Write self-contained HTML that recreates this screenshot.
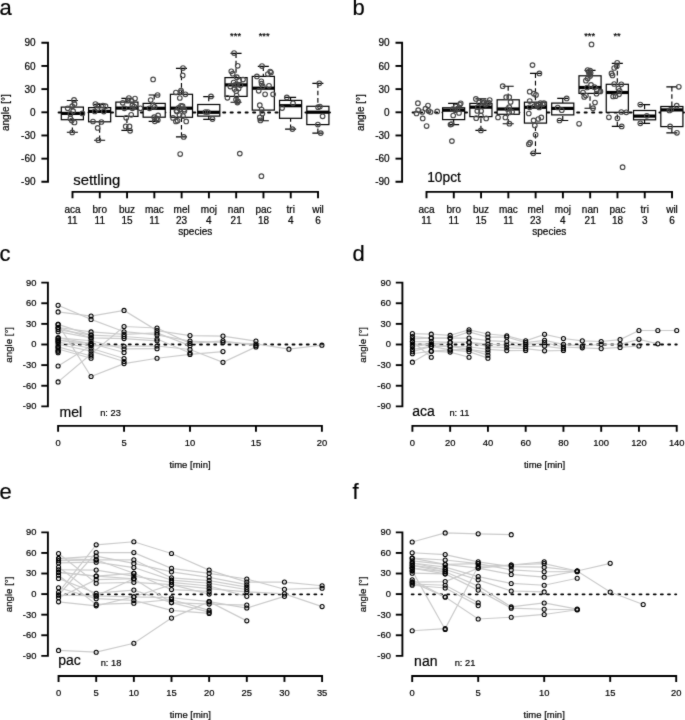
<!DOCTYPE html>
<html lang="en"><head><meta charset="utf-8"><title>Figure: settling angles</title>
<style>
html,body{margin:0;padding:0;background:#fff;}
body{width:685px;height:720px;overflow:hidden;}
svg{display:block;}
text{stroke:#000;stroke-width:0.2px;}
</style></head><body>
<svg width="685" height="720" viewBox="0 0 685 720" font-family='"Liberation Sans", sans-serif' fill="#000">
<defs><filter id="soft" x="0" y="0" width="685" height="720" filterUnits="userSpaceOnUse" color-interpolation-filters="sRGB"><feConvolveMatrix order="3" kernelMatrix="0.02 0.07 0.02 0.07 0.64 0.07 0.02 0.07 0.02" edgeMode="duplicate" preserveAlpha="true"/></filter></defs>
<g filter="url(#soft)">
<rect width="685" height="720" fill="#fff"/>
<text x="-0.6" y="14.7" font-size="22" text-anchor="start">a</text>
<text x="352.4" y="14.6" font-size="22" text-anchor="start">b</text>
<text x="-0.6" y="261" font-size="22" text-anchor="start">c</text>
<text x="352.4" y="261" font-size="22" text-anchor="start">d</text>
<text x="-0.6" y="498.7" font-size="22" text-anchor="start">e</text>
<text x="352.4" y="498.7" font-size="22" text-anchor="start">f</text>
<g id="pa">
<line x1="58.63" y1="112.5" x2="330.62" y2="112.5" stroke="#000" stroke-width="2.05" stroke-linecap="round" stroke-dasharray="2.02 5.46"/>
<path d="M72.35 100.5V107.1 M72.35 132.2V119.7" stroke="#000" stroke-width="1.15" stroke-dasharray="4.6 2.8" fill="none"/>
<path d="M66.82 100.5H77.88 M66.82 132.2H77.88" stroke="#000" stroke-width="1.15" fill="none"/>
<rect x="61.3" y="107.1" width="22.1" height="12.6" fill="#fff" stroke="#000" stroke-width="1.2"/>
<line x1="61.3" y1="113.4" x2="83.4" y2="113.4" stroke="#000" stroke-width="3.2"/>
<path d="M99.63 104.4V107.6 M99.63 140.2V121.8" stroke="#000" stroke-width="1.15" stroke-dasharray="4.6 2.8" fill="none"/>
<path d="M94.1 104.4H105.16 M94.1 140.2H105.16" stroke="#000" stroke-width="1.15" fill="none"/>
<rect x="88.58" y="107.6" width="22.1" height="14.2" fill="#fff" stroke="#000" stroke-width="1.2"/>
<line x1="88.58" y1="111.4" x2="110.68" y2="111.4" stroke="#000" stroke-width="3.2"/>
<path d="M126.91 98.3V102.1 M126.91 130.4V116.4" stroke="#000" stroke-width="1.15" stroke-dasharray="4.6 2.8" fill="none"/>
<path d="M121.38 98.3H132.44 M121.38 130.4H132.44" stroke="#000" stroke-width="1.15" fill="none"/>
<rect x="115.86" y="102.1" width="22.1" height="14.3" fill="#fff" stroke="#000" stroke-width="1.2"/>
<line x1="115.86" y1="108.1" x2="137.96" y2="108.1" stroke="#000" stroke-width="3.2"/>
<path d="M154.19 95V103.4 M154.19 121.3V117.2" stroke="#000" stroke-width="1.15" stroke-dasharray="4.6 2.8" fill="none"/>
<path d="M148.66 95H159.72 M148.66 121.3H159.72" stroke="#000" stroke-width="1.15" fill="none"/>
<rect x="143.14" y="103.4" width="22.1" height="13.8" fill="#fff" stroke="#000" stroke-width="1.2"/>
<line x1="143.14" y1="108.3" x2="165.24" y2="108.3" stroke="#000" stroke-width="3.2"/>
<path d="M181.47 68.3V94.3 M181.47 136.9V117.3" stroke="#000" stroke-width="1.15" stroke-dasharray="4.6 2.8" fill="none"/>
<path d="M175.94 68.3H187 M175.94 136.9H187" stroke="#000" stroke-width="1.15" fill="none"/>
<rect x="170.42" y="94.3" width="22.1" height="23" fill="#fff" stroke="#000" stroke-width="1.2"/>
<line x1="170.42" y1="108.2" x2="192.52" y2="108.2" stroke="#000" stroke-width="3.2"/>
<path d="M208.75 96.6V104.5 M208.75 119.3V116.1" stroke="#000" stroke-width="1.15" stroke-dasharray="4.6 2.8" fill="none"/>
<path d="M203.22 96.6H214.28 M203.22 119.3H214.28" stroke="#000" stroke-width="1.15" fill="none"/>
<rect x="197.7" y="104.5" width="22.1" height="11.6" fill="#fff" stroke="#000" stroke-width="1.2"/>
<line x1="197.7" y1="112.3" x2="219.8" y2="112.3" stroke="#000" stroke-width="3.2"/>
<path d="M236.03 53.4V77.6 M236.03 102.2V96.4" stroke="#000" stroke-width="1.15" stroke-dasharray="4.6 2.8" fill="none"/>
<path d="M230.5 53.4H241.56 M230.5 102.2H241.56" stroke="#000" stroke-width="1.15" fill="none"/>
<rect x="224.98" y="77.6" width="22.1" height="18.8" fill="#fff" stroke="#000" stroke-width="1.2"/>
<line x1="224.98" y1="84.9" x2="247.08" y2="84.9" stroke="#000" stroke-width="3.2"/>
<path d="M263.31 66.3V76.4 M263.31 120.7V110.1" stroke="#000" stroke-width="1.15" stroke-dasharray="4.6 2.8" fill="none"/>
<path d="M257.79 66.3H268.83 M257.79 120.7H268.83" stroke="#000" stroke-width="1.15" fill="none"/>
<rect x="252.26" y="76.4" width="22.1" height="33.7" fill="#fff" stroke="#000" stroke-width="1.2"/>
<line x1="252.26" y1="88.2" x2="274.36" y2="88.2" stroke="#000" stroke-width="3.2"/>
<path d="M290.59 97.4V100.4 M290.59 129.1V118.3" stroke="#000" stroke-width="1.15" stroke-dasharray="4.6 2.8" fill="none"/>
<path d="M285.07 97.4H296.12 M285.07 129.1H296.12" stroke="#000" stroke-width="1.15" fill="none"/>
<rect x="279.54" y="100.4" width="22.1" height="17.9" fill="#fff" stroke="#000" stroke-width="1.2"/>
<line x1="279.54" y1="105.7" x2="301.64" y2="105.7" stroke="#000" stroke-width="3.2"/>
<path d="M317.87 83.3V106.3 M317.87 133.1V124.6" stroke="#000" stroke-width="1.15" stroke-dasharray="4.6 2.8" fill="none"/>
<path d="M312.35 83.3H323.39 M312.35 133.1H323.39" stroke="#000" stroke-width="1.15" fill="none"/>
<rect x="306.82" y="106.3" width="22.1" height="18.3" fill="#fff" stroke="#000" stroke-width="1.2"/>
<line x1="306.82" y1="112.2" x2="328.92" y2="112.2" stroke="#000" stroke-width="3.2"/>
<g fill="none" stroke="#464646" stroke-width="1.15">
<circle cx="74.05" cy="99.9" r="2.3"/>
<circle cx="74.5" cy="104" r="2.3"/>
<circle cx="72.2" cy="106.2" r="2.3"/>
<circle cx="67.7" cy="108.3" r="2.3"/>
<circle cx="73.1" cy="111.2" r="2.3"/>
<circle cx="70.4" cy="113.9" r="2.3"/>
<circle cx="82.4" cy="113.4" r="2.3"/>
<circle cx="70.4" cy="118.4" r="2.3"/>
<circle cx="71.8" cy="120.6" r="2.3"/>
<circle cx="74.5" cy="122.5" r="2.3"/>
<circle cx="72.2" cy="132.4" r="2.3"/>
<circle cx="95.4" cy="104" r="2.3"/>
<circle cx="98.4" cy="105.6" r="2.3"/>
<circle cx="102.9" cy="105.6" r="2.3"/>
<circle cx="105.5" cy="106.2" r="2.3"/>
<circle cx="94.8" cy="111.4" r="2.3"/>
<circle cx="103.8" cy="111.6" r="2.3"/>
<circle cx="97.5" cy="108.6" r="2.3"/>
<circle cx="93" cy="121.5" r="2.3"/>
<circle cx="101.4" cy="122" r="2.3"/>
<circle cx="97.7" cy="127.9" r="2.3"/>
<circle cx="98.4" cy="140.2" r="2.3"/>
<circle cx="128.9" cy="98.1" r="2.3"/>
<circle cx="135" cy="98.6" r="2.3"/>
<circle cx="131.6" cy="100.9" r="2.3"/>
<circle cx="122.7" cy="102.8" r="2.3"/>
<circle cx="132.4" cy="105.4" r="2.3"/>
<circle cx="124.4" cy="108.3" r="2.3"/>
<circle cx="132.4" cy="108.3" r="2.3"/>
<circle cx="140.4" cy="108.3" r="2.3"/>
<circle cx="131.2" cy="114.8" r="2.3"/>
<circle cx="126.2" cy="117.8" r="2.3"/>
<circle cx="125.7" cy="126.4" r="2.3"/>
<circle cx="129.5" cy="126.4" r="2.3"/>
<circle cx="130.1" cy="130.8" r="2.3"/>
<circle cx="127.7" cy="100.7" r="2.3"/>
<circle cx="134.2" cy="106.6" r="2.3"/>
<circle cx="153.1" cy="79.4" r="2.3"/>
<circle cx="157.6" cy="95" r="2.3"/>
<circle cx="150.7" cy="100.1" r="2.3"/>
<circle cx="153.1" cy="105.4" r="2.3"/>
<circle cx="154.6" cy="106.8" r="2.3"/>
<circle cx="149.5" cy="108.3" r="2.3"/>
<circle cx="158.1" cy="115.4" r="2.3"/>
<circle cx="154.2" cy="117.2" r="2.3"/>
<circle cx="156.6" cy="118.4" r="2.3"/>
<circle cx="154.8" cy="121.3" r="2.3"/>
<circle cx="157.8" cy="120.1" r="2.3"/>
<circle cx="183" cy="68.1" r="2.3"/>
<circle cx="182.7" cy="75.4" r="2.3"/>
<circle cx="181" cy="90.5" r="2.3"/>
<circle cx="175.9" cy="92.5" r="2.3"/>
<circle cx="181.2" cy="92.2" r="2.3"/>
<circle cx="185.4" cy="94.3" r="2.3"/>
<circle cx="179.8" cy="98" r="2.3"/>
<circle cx="181" cy="105.8" r="2.3"/>
<circle cx="182.6" cy="106.2" r="2.3"/>
<circle cx="184.2" cy="109.6" r="2.3"/>
<circle cx="176.5" cy="110.8" r="2.3"/>
<circle cx="179.5" cy="114.9" r="2.3"/>
<circle cx="183" cy="116.1" r="2.3"/>
<circle cx="173" cy="117.9" r="2.3"/>
<circle cx="175.9" cy="121.4" r="2.3"/>
<circle cx="177.6" cy="120.8" r="2.3"/>
<circle cx="186.2" cy="121.4" r="2.3"/>
<circle cx="183.7" cy="136.9" r="2.3"/>
<circle cx="180.2" cy="154" r="2.3"/>
<circle cx="178.6" cy="107.9" r="2.3"/>
<circle cx="184.4" cy="110.9" r="2.3"/>
<circle cx="176.9" cy="111.5" r="2.3"/>
<circle cx="180.4" cy="109.2" r="2.3"/>
<circle cx="211" cy="96.4" r="2.3"/>
<circle cx="205.4" cy="112" r="2.3"/>
<circle cx="207.8" cy="112" r="2.3"/>
<circle cx="212.5" cy="119.1" r="2.3"/>
<circle cx="234.1" cy="53" r="2.3"/>
<circle cx="237.7" cy="65.8" r="2.3"/>
<circle cx="231.3" cy="71.3" r="2.3"/>
<circle cx="232.7" cy="73.7" r="2.3"/>
<circle cx="236.8" cy="77.2" r="2.3"/>
<circle cx="243" cy="79.6" r="2.3"/>
<circle cx="239.2" cy="80.7" r="2.3"/>
<circle cx="237.4" cy="84.3" r="2.3"/>
<circle cx="235.1" cy="84.9" r="2.3"/>
<circle cx="230.3" cy="86.6" r="2.3"/>
<circle cx="234.5" cy="89" r="2.3"/>
<circle cx="238.6" cy="88.6" r="2.3"/>
<circle cx="236.6" cy="95.5" r="2.3"/>
<circle cx="227.4" cy="97.8" r="2.3"/>
<circle cx="236" cy="99.6" r="2.3"/>
<circle cx="238" cy="101.4" r="2.3"/>
<circle cx="237.4" cy="102.6" r="2.3"/>
<circle cx="239.8" cy="153.6" r="2.3"/>
<circle cx="233.6" cy="82.6" r="2.3"/>
<circle cx="240.4" cy="85.2" r="2.3"/>
<circle cx="236.2" cy="91.2" r="2.3"/>
<circle cx="262" cy="66" r="2.3"/>
<circle cx="271" cy="72.5" r="2.3"/>
<circle cx="267.9" cy="74" r="2.3"/>
<circle cx="256.9" cy="76.4" r="2.3"/>
<circle cx="261.3" cy="81.3" r="2.3"/>
<circle cx="261.6" cy="83.7" r="2.3"/>
<circle cx="262.8" cy="86.4" r="2.3"/>
<circle cx="269" cy="85.8" r="2.3"/>
<circle cx="258.7" cy="90.8" r="2.3"/>
<circle cx="265.1" cy="94.3" r="2.3"/>
<circle cx="273.1" cy="94.3" r="2.3"/>
<circle cx="259.8" cy="105.2" r="2.3"/>
<circle cx="261.6" cy="109.5" r="2.3"/>
<circle cx="262.4" cy="113.5" r="2.3"/>
<circle cx="259.8" cy="117.4" r="2.3"/>
<circle cx="260.4" cy="120.4" r="2.3"/>
<circle cx="261.4" cy="176.2" r="2.3"/>
<circle cx="270.2" cy="71.6" r="2.3"/>
<circle cx="286.8" cy="97.4" r="2.3"/>
<circle cx="293" cy="103.3" r="2.3"/>
<circle cx="282.1" cy="108.1" r="2.3"/>
<circle cx="292.4" cy="129.1" r="2.3"/>
<circle cx="319.3" cy="83.3" r="2.3"/>
<circle cx="319.9" cy="106.5" r="2.3"/>
<circle cx="318.1" cy="107.2" r="2.3"/>
<circle cx="322.6" cy="116.3" r="2.3"/>
<circle cx="317.9" cy="124.6" r="2.3"/>
<circle cx="320.7" cy="133.1" r="2.3"/>
</g>
<path d="M41.4 42.78 H48 V181.82 H41.4" fill="none" stroke="#000" stroke-width="1.9" stroke-linecap="butt" stroke-linejoin="miter"/>
<line x1="41.4" y1="65.95" x2="48" y2="65.95" stroke="#000" stroke-width="1.9"/>
<line x1="41.4" y1="89.12" x2="48" y2="89.12" stroke="#000" stroke-width="1.9"/>
<line x1="41.4" y1="112.3" x2="48" y2="112.3" stroke="#000" stroke-width="1.9"/>
<line x1="41.4" y1="135.47" x2="48" y2="135.47" stroke="#000" stroke-width="1.9"/>
<line x1="41.4" y1="158.65" x2="48" y2="158.65" stroke="#000" stroke-width="1.9"/>
<text x="35.5" y="46.38" font-size="10" text-anchor="end">90</text>
<text x="35.5" y="69.55" font-size="10" text-anchor="end">60</text>
<text x="35.5" y="92.72" font-size="10" text-anchor="end">30</text>
<text x="35.5" y="115.9" font-size="10" text-anchor="end">0</text>
<text x="35.5" y="139.07" font-size="10" text-anchor="end">-30</text>
<text x="35.5" y="162.25" font-size="10" text-anchor="end">-60</text>
<text x="35.5" y="185.42" font-size="10" text-anchor="end">-90</text>
<text transform="translate(9.4 112.6) rotate(-90)" font-size="10" text-anchor="middle">angle [°]</text>
<path d="M72.5 198.3 V191.9 H318.02 V198.3" fill="none" stroke="#000" stroke-width="1.9"/>
<line x1="99.78" y1="191.9" x2="99.78" y2="198.3" stroke="#000" stroke-width="1.9"/>
<line x1="127.06" y1="191.9" x2="127.06" y2="198.3" stroke="#000" stroke-width="1.9"/>
<line x1="154.34" y1="191.9" x2="154.34" y2="198.3" stroke="#000" stroke-width="1.9"/>
<line x1="181.62" y1="191.9" x2="181.62" y2="198.3" stroke="#000" stroke-width="1.9"/>
<line x1="208.9" y1="191.9" x2="208.9" y2="198.3" stroke="#000" stroke-width="1.9"/>
<line x1="236.18" y1="191.9" x2="236.18" y2="198.3" stroke="#000" stroke-width="1.9"/>
<line x1="263.46" y1="191.9" x2="263.46" y2="198.3" stroke="#000" stroke-width="1.9"/>
<line x1="290.74" y1="191.9" x2="290.74" y2="198.3" stroke="#000" stroke-width="1.9"/>
<text x="72.5" y="213.1" font-size="10" text-anchor="middle">aca</text>
<text x="72.5" y="223.8" font-size="10" text-anchor="middle">11</text>
<text x="99.78" y="213.1" font-size="10" text-anchor="middle">bro</text>
<text x="99.78" y="223.8" font-size="10" text-anchor="middle">11</text>
<text x="127.06" y="213.1" font-size="10" text-anchor="middle">buz</text>
<text x="127.06" y="223.8" font-size="10" text-anchor="middle">15</text>
<text x="154.34" y="213.1" font-size="10" text-anchor="middle">mac</text>
<text x="154.34" y="223.8" font-size="10" text-anchor="middle">11</text>
<text x="181.62" y="213.1" font-size="10" text-anchor="middle">mel</text>
<text x="181.62" y="223.8" font-size="10" text-anchor="middle">23</text>
<text x="208.9" y="213.1" font-size="10" text-anchor="middle">moj</text>
<text x="208.9" y="223.8" font-size="10" text-anchor="middle">4</text>
<text x="236.18" y="213.1" font-size="10" text-anchor="middle">nan</text>
<text x="236.18" y="223.8" font-size="10" text-anchor="middle">21</text>
<text x="263.46" y="213.1" font-size="10" text-anchor="middle">pac</text>
<text x="263.46" y="223.8" font-size="10" text-anchor="middle">18</text>
<text x="290.74" y="213.1" font-size="10" text-anchor="middle">tri</text>
<text x="290.74" y="223.8" font-size="10" text-anchor="middle">4</text>
<text x="318.02" y="213.1" font-size="10" text-anchor="middle">wil</text>
<text x="318.02" y="223.8" font-size="10" text-anchor="middle">6</text>
<text x="195.26" y="235.1" font-size="10" text-anchor="middle">species</text>
<text x="73.2" y="185" font-size="14.9" text-anchor="start">settling</text>
<text x="235.6" y="38.6" font-size="9.4" text-anchor="middle">***</text>
<text x="264.2" y="38.6" font-size="9.4" text-anchor="middle">***</text>
</g><g id="pb">
<line x1="412.63" y1="112.5" x2="684.62" y2="112.5" stroke="#000" stroke-width="2.05" stroke-linecap="round" stroke-dasharray="2.02 5.46"/>
<path d="M453.63 103.3V107.8 M453.63 124.6V119.6" stroke="#000" stroke-width="1.15" stroke-dasharray="4.6 2.8" fill="none"/>
<path d="M448.11 103.3H459.15 M448.11 124.6H459.15" stroke="#000" stroke-width="1.15" fill="none"/>
<rect x="442.58" y="107.8" width="22.1" height="11.8" fill="#fff" stroke="#000" stroke-width="1.2"/>
<line x1="442.58" y1="110.2" x2="464.68" y2="110.2" stroke="#000" stroke-width="3.2"/>
<path d="M480.91 98.9V103.4 M480.91 130.4V116.6" stroke="#000" stroke-width="1.15" stroke-dasharray="4.6 2.8" fill="none"/>
<path d="M475.39 98.9H486.44 M475.39 130.4H486.44" stroke="#000" stroke-width="1.15" fill="none"/>
<rect x="469.86" y="103.4" width="22.1" height="13.2" fill="#fff" stroke="#000" stroke-width="1.2"/>
<line x1="469.86" y1="107.2" x2="491.96" y2="107.2" stroke="#000" stroke-width="3.2"/>
<path d="M508.19 86.2V99.8 M508.19 123.7V114.3" stroke="#000" stroke-width="1.15" stroke-dasharray="4.6 2.8" fill="none"/>
<path d="M502.67 86.2H513.72 M502.67 123.7H513.72" stroke="#000" stroke-width="1.15" fill="none"/>
<rect x="497.14" y="99.8" width="22.1" height="14.5" fill="#fff" stroke="#000" stroke-width="1.2"/>
<line x1="497.14" y1="109" x2="519.24" y2="109" stroke="#000" stroke-width="3.2"/>
<path d="M535.47 73.4V102.2 M535.47 153.3V123.1" stroke="#000" stroke-width="1.15" stroke-dasharray="4.6 2.8" fill="none"/>
<path d="M529.95 73.4H541 M529.95 153.3H541" stroke="#000" stroke-width="1.15" fill="none"/>
<rect x="524.42" y="102.2" width="22.1" height="20.9" fill="#fff" stroke="#000" stroke-width="1.2"/>
<line x1="524.42" y1="107.3" x2="546.52" y2="107.3" stroke="#000" stroke-width="3.2"/>
<path d="M562.75 98.4V103.1 M562.75 120.5V114.9" stroke="#000" stroke-width="1.15" stroke-dasharray="4.6 2.8" fill="none"/>
<path d="M557.23 98.4H568.27 M557.23 120.5H568.27" stroke="#000" stroke-width="1.15" fill="none"/>
<rect x="551.7" y="103.1" width="22.1" height="11.8" fill="#fff" stroke="#000" stroke-width="1.2"/>
<line x1="551.7" y1="108.4" x2="573.8" y2="108.4" stroke="#000" stroke-width="3.2"/>
<path d="M590.03 70.4V75.8 M590.03 108.2V93.4" stroke="#000" stroke-width="1.15" stroke-dasharray="4.6 2.8" fill="none"/>
<path d="M584.5 70.4H595.55 M584.5 108.2H595.55" stroke="#000" stroke-width="1.15" fill="none"/>
<rect x="578.98" y="75.8" width="22.1" height="17.6" fill="#fff" stroke="#000" stroke-width="1.2"/>
<line x1="578.98" y1="87.5" x2="601.08" y2="87.5" stroke="#000" stroke-width="3.2"/>
<path d="M617.31 63.4V84.3 M617.31 126.4V112.3" stroke="#000" stroke-width="1.15" stroke-dasharray="4.6 2.8" fill="none"/>
<path d="M611.79 63.4H622.84 M611.79 126.4H622.84" stroke="#000" stroke-width="1.15" fill="none"/>
<rect x="606.26" y="84.3" width="22.1" height="28" fill="#fff" stroke="#000" stroke-width="1.2"/>
<line x1="606.26" y1="92.5" x2="628.36" y2="92.5" stroke="#000" stroke-width="3.2"/>
<path d="M644.59 104.6V110.5 M644.59 123.3V119.8" stroke="#000" stroke-width="1.15" stroke-dasharray="4.6 2.8" fill="none"/>
<path d="M639.07 104.6H650.12 M639.07 123.3H650.12" stroke="#000" stroke-width="1.15" fill="none"/>
<rect x="633.54" y="110.5" width="22.1" height="9.3" fill="#fff" stroke="#000" stroke-width="1.2"/>
<line x1="633.54" y1="116.1" x2="655.64" y2="116.1" stroke="#000" stroke-width="3.2"/>
<path d="M671.87 86.8V106.5 M671.87 132.8V126.6" stroke="#000" stroke-width="1.15" stroke-dasharray="4.6 2.8" fill="none"/>
<path d="M666.35 86.8H677.39 M666.35 132.8H677.39" stroke="#000" stroke-width="1.15" fill="none"/>
<rect x="660.82" y="106.5" width="22.1" height="20.1" fill="#fff" stroke="#000" stroke-width="1.2"/>
<line x1="660.82" y1="109.9" x2="682.92" y2="109.9" stroke="#000" stroke-width="3.2"/>
<g fill="none" stroke="#464646" stroke-width="1.15">
<circle cx="417.9" cy="103.2" r="2.3"/>
<circle cx="428" cy="105.5" r="2.3"/>
<circle cx="425.5" cy="108.7" r="2.3"/>
<circle cx="418.2" cy="110.2" r="2.3"/>
<circle cx="422.3" cy="112" r="2.3"/>
<circle cx="416.5" cy="113.4" r="2.3"/>
<circle cx="430.5" cy="112" r="2.3"/>
<circle cx="428.5" cy="110.8" r="2.3"/>
<circle cx="437.2" cy="111.4" r="2.3"/>
<circle cx="422.7" cy="118.4" r="2.3"/>
<circle cx="426.6" cy="126" r="2.3"/>
<circle cx="460.7" cy="103.3" r="2.3"/>
<circle cx="455.8" cy="106.6" r="2.3"/>
<circle cx="452.8" cy="109.2" r="2.3"/>
<circle cx="455.2" cy="110.2" r="2.3"/>
<circle cx="459" cy="113" r="2.3"/>
<circle cx="453.2" cy="115.5" r="2.3"/>
<circle cx="450.5" cy="124.6" r="2.3"/>
<circle cx="451.7" cy="124.1" r="2.3"/>
<circle cx="451.9" cy="141.1" r="2.3"/>
<circle cx="457.6" cy="108.6" r="2.3"/>
<circle cx="459.9" cy="104.5" r="2.3"/>
<circle cx="475.9" cy="98.9" r="2.3"/>
<circle cx="489.7" cy="100.1" r="2.3"/>
<circle cx="479.1" cy="102.5" r="2.3"/>
<circle cx="482.6" cy="103.1" r="2.3"/>
<circle cx="487.4" cy="103.4" r="2.3"/>
<circle cx="477.9" cy="107.2" r="2.3"/>
<circle cx="485.6" cy="104.6" r="2.3"/>
<circle cx="477.3" cy="111" r="2.3"/>
<circle cx="481.1" cy="111" r="2.3"/>
<circle cx="480.9" cy="115.5" r="2.3"/>
<circle cx="476.2" cy="118.2" r="2.3"/>
<circle cx="486.2" cy="118.4" r="2.3"/>
<circle cx="480.9" cy="130.4" r="2.3"/>
<circle cx="484.2" cy="102.4" r="2.3"/>
<circle cx="488.6" cy="102.6" r="2.3"/>
<circle cx="502.7" cy="86.2" r="2.3"/>
<circle cx="506.2" cy="97.2" r="2.3"/>
<circle cx="509.2" cy="97.2" r="2.3"/>
<circle cx="510.6" cy="101.9" r="2.3"/>
<circle cx="509.2" cy="107.2" r="2.3"/>
<circle cx="507.4" cy="109" r="2.3"/>
<circle cx="512.1" cy="111.9" r="2.3"/>
<circle cx="509.2" cy="112.5" r="2.3"/>
<circle cx="498" cy="117.5" r="2.3"/>
<circle cx="505.4" cy="117.5" r="2.3"/>
<circle cx="509.4" cy="123.7" r="2.3"/>
<circle cx="532.5" cy="65.1" r="2.3"/>
<circle cx="539.4" cy="73.4" r="2.3"/>
<circle cx="529.7" cy="91.7" r="2.3"/>
<circle cx="533.9" cy="93.7" r="2.3"/>
<circle cx="536" cy="94.9" r="2.3"/>
<circle cx="529.7" cy="101.1" r="2.3"/>
<circle cx="540.4" cy="103.1" r="2.3"/>
<circle cx="542.7" cy="104.3" r="2.3"/>
<circle cx="537.4" cy="105.5" r="2.3"/>
<circle cx="534.5" cy="106.1" r="2.3"/>
<circle cx="529.7" cy="107.3" r="2.3"/>
<circle cx="539.2" cy="107.5" r="2.3"/>
<circle cx="528.8" cy="113.5" r="2.3"/>
<circle cx="541.3" cy="117.4" r="2.3"/>
<circle cx="538.3" cy="119" r="2.3"/>
<circle cx="533.6" cy="120.4" r="2.3"/>
<circle cx="534.8" cy="125.4" r="2.3"/>
<circle cx="535.6" cy="134.8" r="2.3"/>
<circle cx="528.9" cy="144.2" r="2.3"/>
<circle cx="530.1" cy="142.7" r="2.3"/>
<circle cx="533.3" cy="153.3" r="2.3"/>
<circle cx="543.9" cy="103.2" r="2.3"/>
<circle cx="536.6" cy="104.6" r="2.3"/>
<circle cx="566.7" cy="98.4" r="2.3"/>
<circle cx="557.7" cy="107.5" r="2.3"/>
<circle cx="561.8" cy="110.2" r="2.3"/>
<circle cx="559.5" cy="120.5" r="2.3"/>
<circle cx="591.5" cy="44.4" r="2.3"/>
<circle cx="587.7" cy="70.1" r="2.3"/>
<circle cx="590.1" cy="70.7" r="2.3"/>
<circle cx="590.6" cy="73.1" r="2.3"/>
<circle cx="590.1" cy="76" r="2.3"/>
<circle cx="587.7" cy="78.4" r="2.3"/>
<circle cx="585.9" cy="80.7" r="2.3"/>
<circle cx="591" cy="84.9" r="2.3"/>
<circle cx="587.1" cy="87.5" r="2.3"/>
<circle cx="594.5" cy="87.2" r="2.3"/>
<circle cx="596.9" cy="90.2" r="2.3"/>
<circle cx="600.4" cy="91.4" r="2.3"/>
<circle cx="583" cy="92.5" r="2.3"/>
<circle cx="596.5" cy="93.7" r="2.3"/>
<circle cx="585.9" cy="95.5" r="2.3"/>
<circle cx="584.2" cy="97" r="2.3"/>
<circle cx="595" cy="102.6" r="2.3"/>
<circle cx="593" cy="108.2" r="2.3"/>
<circle cx="579.1" cy="123.8" r="2.3"/>
<circle cx="589.2" cy="74.6" r="2.3"/>
<circle cx="588.8" cy="72.1" r="2.3"/>
<circle cx="617.2" cy="62.8" r="2.3"/>
<circle cx="614.2" cy="68" r="2.3"/>
<circle cx="611.5" cy="73.4" r="2.3"/>
<circle cx="612.5" cy="75.4" r="2.3"/>
<circle cx="614.2" cy="84" r="2.3"/>
<circle cx="621.3" cy="84.3" r="2.3"/>
<circle cx="618.4" cy="88.4" r="2.3"/>
<circle cx="619.6" cy="90.8" r="2.3"/>
<circle cx="619" cy="94.3" r="2.3"/>
<circle cx="613.1" cy="96.4" r="2.3"/>
<circle cx="615.5" cy="96.2" r="2.3"/>
<circle cx="621.3" cy="112" r="2.3"/>
<circle cx="626.3" cy="112.3" r="2.3"/>
<circle cx="608.9" cy="117.3" r="2.3"/>
<circle cx="617.4" cy="118.3" r="2.3"/>
<circle cx="621.7" cy="126.4" r="2.3"/>
<circle cx="622.6" cy="167.2" r="2.3"/>
<circle cx="616.8" cy="66.2" r="2.3"/>
<circle cx="640.3" cy="104.6" r="2.3"/>
<circle cx="646.8" cy="115.8" r="2.3"/>
<circle cx="640.3" cy="123.3" r="2.3"/>
<circle cx="678.8" cy="86.8" r="2.3"/>
<circle cx="676.7" cy="105.7" r="2.3"/>
<circle cx="669.4" cy="110.4" r="2.3"/>
<circle cx="670.1" cy="126.4" r="2.3"/>
<circle cx="676.9" cy="132.8" r="2.3"/>
<circle cx="671.2" cy="109.6" r="2.3"/>
</g>
<path d="M395.5 42.78 H402.1 V181.82 H395.5" fill="none" stroke="#000" stroke-width="1.9" stroke-linecap="butt" stroke-linejoin="miter"/>
<line x1="395.5" y1="65.95" x2="402.1" y2="65.95" stroke="#000" stroke-width="1.9"/>
<line x1="395.5" y1="89.12" x2="402.1" y2="89.12" stroke="#000" stroke-width="1.9"/>
<line x1="395.5" y1="112.3" x2="402.1" y2="112.3" stroke="#000" stroke-width="1.9"/>
<line x1="395.5" y1="135.47" x2="402.1" y2="135.47" stroke="#000" stroke-width="1.9"/>
<line x1="395.5" y1="158.65" x2="402.1" y2="158.65" stroke="#000" stroke-width="1.9"/>
<text x="389.6" y="46.38" font-size="10" text-anchor="end">90</text>
<text x="389.6" y="69.55" font-size="10" text-anchor="end">60</text>
<text x="389.6" y="92.72" font-size="10" text-anchor="end">30</text>
<text x="389.6" y="115.9" font-size="10" text-anchor="end">0</text>
<text x="389.6" y="139.07" font-size="10" text-anchor="end">-30</text>
<text x="389.6" y="162.25" font-size="10" text-anchor="end">-60</text>
<text x="389.6" y="185.42" font-size="10" text-anchor="end">-90</text>
<text transform="translate(363.5 112.6) rotate(-90)" font-size="10" text-anchor="middle">angle [°]</text>
<path d="M426.5 198.3 V191.9 H672.02 V198.3" fill="none" stroke="#000" stroke-width="1.9"/>
<line x1="453.78" y1="191.9" x2="453.78" y2="198.3" stroke="#000" stroke-width="1.9"/>
<line x1="481.06" y1="191.9" x2="481.06" y2="198.3" stroke="#000" stroke-width="1.9"/>
<line x1="508.34" y1="191.9" x2="508.34" y2="198.3" stroke="#000" stroke-width="1.9"/>
<line x1="535.62" y1="191.9" x2="535.62" y2="198.3" stroke="#000" stroke-width="1.9"/>
<line x1="562.9" y1="191.9" x2="562.9" y2="198.3" stroke="#000" stroke-width="1.9"/>
<line x1="590.18" y1="191.9" x2="590.18" y2="198.3" stroke="#000" stroke-width="1.9"/>
<line x1="617.46" y1="191.9" x2="617.46" y2="198.3" stroke="#000" stroke-width="1.9"/>
<line x1="644.74" y1="191.9" x2="644.74" y2="198.3" stroke="#000" stroke-width="1.9"/>
<text x="426.5" y="213.1" font-size="10" text-anchor="middle">aca</text>
<text x="426.5" y="223.8" font-size="10" text-anchor="middle">11</text>
<text x="453.78" y="213.1" font-size="10" text-anchor="middle">bro</text>
<text x="453.78" y="223.8" font-size="10" text-anchor="middle">11</text>
<text x="481.06" y="213.1" font-size="10" text-anchor="middle">buz</text>
<text x="481.06" y="223.8" font-size="10" text-anchor="middle">15</text>
<text x="508.34" y="213.1" font-size="10" text-anchor="middle">mac</text>
<text x="508.34" y="223.8" font-size="10" text-anchor="middle">11</text>
<text x="535.62" y="213.1" font-size="10" text-anchor="middle">mel</text>
<text x="535.62" y="223.8" font-size="10" text-anchor="middle">23</text>
<text x="562.9" y="213.1" font-size="10" text-anchor="middle">moj</text>
<text x="562.9" y="223.8" font-size="10" text-anchor="middle">4</text>
<text x="590.18" y="213.1" font-size="10" text-anchor="middle">nan</text>
<text x="590.18" y="223.8" font-size="10" text-anchor="middle">21</text>
<text x="617.46" y="213.1" font-size="10" text-anchor="middle">pac</text>
<text x="617.46" y="223.8" font-size="10" text-anchor="middle">18</text>
<text x="644.74" y="213.1" font-size="10" text-anchor="middle">tri</text>
<text x="644.74" y="223.8" font-size="10" text-anchor="middle">3</text>
<text x="672.02" y="213.1" font-size="10" text-anchor="middle">wil</text>
<text x="672.02" y="223.8" font-size="10" text-anchor="middle">6</text>
<text x="549.26" y="235.1" font-size="10" text-anchor="middle">species</text>
<text x="427.2" y="182.2" font-size="13.8" text-anchor="start">10pct</text>
<text x="589.7" y="38.6" font-size="9.4" text-anchor="middle">***</text>
<text x="617.1" y="38.6" font-size="9.4" text-anchor="middle">**</text>
</g><g id="pc">
<line x1="57.6" y1="344.5" x2="321.9" y2="344.5" stroke="#000" stroke-width="1.95" stroke-linecap="round" stroke-dasharray="1.92 5.2"/>
<g fill="none" stroke="#cbcbcb" stroke-width="1.2">
<path d="M58.1 305.31 L91.08 319.41 L124.05 331.71 L157.03 334.88 L190 341.06 L222.97 342.51 L255.95 343.95 L288.93 349.18 L321.9 345.19"/>
<path d="M58.1 311.91 L91.08 316.11 L124.05 310.4 L157.03 330.61 L190 335.56 L222.97 336.11 L255.95 341.06"/>
<path d="M58.1 381.9 L91.08 353.92 L124.05 326.49 L157.03 328 L190 343.4 L222.97 340.79 L255.95 345.67"/>
<path d="M58.1 324.43 L91.08 376.47 L124.05 363.61 L157.03 358.25 L190 354.4 L222.97 351.58"/>
<path d="M58.1 366.02 L91.08 345.6 L124.05 346.22 L157.03 346.01 L190 349.52 L222.97 362.31 L255.95 346.91"/>
<path d="M58.1 327.52 L91.08 331.92 L124.05 334.39 L157.03 332.88 L190 345.67"/>
<path d="M58.1 329.58 L91.08 335.08 L124.05 336.52 L157.03 339 L190 353.02"/>
<path d="M58.1 331.71 L91.08 337.9 L124.05 338.59 L157.03 340.79"/>
<path d="M58.1 337.9 L91.08 340.72 L124.05 348.97 L157.03 348.69"/>
<path d="M58.1 340.03 L91.08 343.47 L124.05 352.48"/>
<path d="M58.1 342.09 L91.08 348.28 L124.05 358.52"/>
<path d="M58.1 344.23 L91.08 351.1 L124.05 361.48"/>
<path d="M58.1 346.91 L91.08 355.98"/>
<path d="M58.1 348.97 L91.08 358.25"/>
<path d="M58.1 324.43 L91.08 335.08"/>
<path d="M58.1 327.52 L91.08 337.9"/>
<path d="M58.1 337.9 L91.08 343.47"/>
<path d="M58.1 340.03 L91.08 345.6"/>
</g>
<g fill="none" stroke="#000" stroke-width="1.05">
<circle cx="58.1" cy="305.31" r="2.05"/>
<circle cx="91.08" cy="319.41" r="2.05"/>
<circle cx="124.05" cy="331.71" r="2.05"/>
<circle cx="157.03" cy="334.88" r="2.05"/>
<circle cx="190" cy="341.06" r="2.05"/>
<circle cx="222.97" cy="342.51" r="2.05"/>
<circle cx="255.95" cy="343.95" r="2.05"/>
<circle cx="288.93" cy="349.18" r="2.05"/>
<circle cx="321.9" cy="345.19" r="2.05"/>
<circle cx="58.1" cy="311.91" r="2.05"/>
<circle cx="91.08" cy="316.11" r="2.05"/>
<circle cx="124.05" cy="310.4" r="2.05"/>
<circle cx="157.03" cy="330.61" r="2.05"/>
<circle cx="190" cy="335.56" r="2.05"/>
<circle cx="222.97" cy="336.11" r="2.05"/>
<circle cx="255.95" cy="341.06" r="2.05"/>
<circle cx="58.1" cy="381.9" r="2.05"/>
<circle cx="91.08" cy="353.92" r="2.05"/>
<circle cx="124.05" cy="326.49" r="2.05"/>
<circle cx="157.03" cy="328" r="2.05"/>
<circle cx="190" cy="343.4" r="2.05"/>
<circle cx="222.97" cy="340.79" r="2.05"/>
<circle cx="255.95" cy="345.67" r="2.05"/>
<circle cx="58.1" cy="324.43" r="2.05"/>
<circle cx="91.08" cy="376.47" r="2.05"/>
<circle cx="124.05" cy="363.61" r="2.05"/>
<circle cx="157.03" cy="358.25" r="2.05"/>
<circle cx="190" cy="354.4" r="2.05"/>
<circle cx="222.97" cy="351.58" r="2.05"/>
<circle cx="58.1" cy="366.02" r="2.05"/>
<circle cx="91.08" cy="345.6" r="2.05"/>
<circle cx="124.05" cy="346.22" r="2.05"/>
<circle cx="157.03" cy="346.01" r="2.05"/>
<circle cx="190" cy="349.52" r="2.05"/>
<circle cx="222.97" cy="362.31" r="2.05"/>
<circle cx="255.95" cy="346.91" r="2.05"/>
<circle cx="58.1" cy="327.52" r="2.05"/>
<circle cx="91.08" cy="331.92" r="2.05"/>
<circle cx="124.05" cy="334.39" r="2.05"/>
<circle cx="157.03" cy="332.88" r="2.05"/>
<circle cx="190" cy="345.67" r="2.05"/>
<circle cx="58.1" cy="329.58" r="2.05"/>
<circle cx="91.08" cy="335.08" r="2.05"/>
<circle cx="124.05" cy="336.52" r="2.05"/>
<circle cx="157.03" cy="339" r="2.05"/>
<circle cx="190" cy="353.02" r="2.05"/>
<circle cx="58.1" cy="331.71" r="2.05"/>
<circle cx="91.08" cy="337.9" r="2.05"/>
<circle cx="124.05" cy="338.59" r="2.05"/>
<circle cx="157.03" cy="340.79" r="2.05"/>
<circle cx="58.1" cy="337.9" r="2.05"/>
<circle cx="91.08" cy="340.72" r="2.05"/>
<circle cx="124.05" cy="348.97" r="2.05"/>
<circle cx="157.03" cy="348.69" r="2.05"/>
<circle cx="58.1" cy="340.03" r="2.05"/>
<circle cx="91.08" cy="343.47" r="2.05"/>
<circle cx="124.05" cy="352.48" r="2.05"/>
<circle cx="58.1" cy="342.09" r="2.05"/>
<circle cx="91.08" cy="348.28" r="2.05"/>
<circle cx="124.05" cy="358.52" r="2.05"/>
<circle cx="58.1" cy="344.23" r="2.05"/>
<circle cx="91.08" cy="351.1" r="2.05"/>
<circle cx="124.05" cy="361.48" r="2.05"/>
<circle cx="58.1" cy="346.91" r="2.05"/>
<circle cx="91.08" cy="355.98" r="2.05"/>
<circle cx="58.1" cy="348.97" r="2.05"/>
<circle cx="91.08" cy="358.25" r="2.05"/>
<circle cx="58.1" cy="351.1" r="2.05"/>
<circle cx="58.1" cy="352.75" r="2.05"/>
<circle cx="58.1" cy="324.43" r="2.05"/>
<circle cx="91.08" cy="335.08" r="2.05"/>
<circle cx="58.1" cy="327.52" r="2.05"/>
<circle cx="91.08" cy="337.9" r="2.05"/>
<circle cx="58.1" cy="337.9" r="2.05"/>
<circle cx="91.08" cy="343.47" r="2.05"/>
<circle cx="58.1" cy="340.03" r="2.05"/>
<circle cx="91.08" cy="345.6" r="2.05"/>
<circle cx="58.1" cy="342.09" r="2.05"/>
<circle cx="58.1" cy="346.91" r="2.05"/>
<circle cx="58.1" cy="351.1" r="2.05"/>
</g>
<path d="M41.3 282.62 H47.9 V406.38 H41.3" fill="none" stroke="#000" stroke-width="1.9" stroke-linecap="butt" stroke-linejoin="miter"/>
<line x1="41.3" y1="303.25" x2="47.9" y2="303.25" stroke="#000" stroke-width="1.9"/>
<line x1="41.3" y1="323.88" x2="47.9" y2="323.88" stroke="#000" stroke-width="1.9"/>
<line x1="41.3" y1="344.5" x2="47.9" y2="344.5" stroke="#000" stroke-width="1.9"/>
<line x1="41.3" y1="365.12" x2="47.9" y2="365.12" stroke="#000" stroke-width="1.9"/>
<line x1="41.3" y1="385.75" x2="47.9" y2="385.75" stroke="#000" stroke-width="1.9"/>
<text x="36.4" y="285.52" font-size="9.4" text-anchor="end">90</text>
<text x="36.4" y="306.15" font-size="9.4" text-anchor="end">60</text>
<text x="36.4" y="326.77" font-size="9.4" text-anchor="end">30</text>
<text x="36.4" y="347.4" font-size="9.4" text-anchor="end">0</text>
<text x="36.4" y="368.02" font-size="9.4" text-anchor="end">-30</text>
<text x="36.4" y="388.65" font-size="9.4" text-anchor="end">-60</text>
<text x="36.4" y="409.27" font-size="9.4" text-anchor="end">-90</text>
<text transform="translate(11.65 344.8) rotate(-90)" font-size="9.7" text-anchor="middle">angle [°]</text>
<path d="M58.1 431.8 V425.9 H321.9 V431.8" fill="none" stroke="#000" stroke-width="1.9"/>
<line x1="124.05" y1="425.9" x2="124.05" y2="431.8" stroke="#000" stroke-width="1.9"/>
<line x1="190" y1="425.9" x2="190" y2="431.8" stroke="#000" stroke-width="1.9"/>
<line x1="255.95" y1="425.9" x2="255.95" y2="431.8" stroke="#000" stroke-width="1.9"/>
<text x="58.1" y="445.6" font-size="9.4" text-anchor="middle">0</text>
<text x="124.05" y="445.6" font-size="9.4" text-anchor="middle">5</text>
<text x="190" y="445.6" font-size="9.4" text-anchor="middle">10</text>
<text x="255.95" y="445.6" font-size="9.4" text-anchor="middle">15</text>
<text x="321.9" y="445.6" font-size="9.4" text-anchor="middle">20</text>
<text x="190" y="467.9" font-size="9.5" text-anchor="middle">time [min]</text>
<text x="59.5" y="416.7" font-size="14" text-anchor="start">mel</text>
<text x="100.2" y="415.6" font-size="9.3" text-anchor="start">n: 23</text>
</g><g id="pd">
<line x1="411.9" y1="344.5" x2="676.72" y2="344.5" stroke="#000" stroke-width="1.95" stroke-linecap="round" stroke-dasharray="1.92 5.2"/>
<g fill="none" stroke="#cbcbcb" stroke-width="1.2">
<path d="M412.4 333.64 L431.28 334.19 L450.16 335.43 L469.04 329.79 L487.92 333.98 L506.8 335.77 L525.68 340.86 L544.56 334.32 L563.44 338.52 L582.32 340.86 L601.2 341.48 L620.08 339.62 L638.96 330.48 L657.84 330.48 L676.72 330.48"/>
<path d="M412.4 336.59 L431.28 338.04 L450.16 338.04 L469.04 331.92 L487.92 337.14 L506.8 337.14 L525.68 342.57 L544.56 340.31 L563.44 344.29 L582.32 346.08 L601.2 344.23 L620.08 344.23 L638.96 339.34 L657.84 343.81"/>
<path d="M412.4 338.86 L431.28 338.04 L450.16 338.04 L469.04 338.04 L487.92 340.65 L506.8 341.54 L525.68 344.29 L544.56 342.57 L563.44 346.98 L582.32 347.8 L601.2 348.62 L620.08 347.39 L638.96 346.01"/>
<path d="M412.4 341.54 L431.28 341.54 L450.16 342.44 L469.04 342.44 L487.92 344.16 L506.8 345.05 L525.68 346.56 L544.56 346.08 L563.44 348.69"/>
<path d="M412.4 344.16 L431.28 344.16 L450.16 342.44 L469.04 342.44 L487.92 346.77 L506.8 347.66 L525.68 348.69 L544.56 350.82 L563.44 350.48"/>
<path d="M412.4 346.43 L431.28 344.16 L450.16 346.43 L469.04 346.77 L487.92 349.38 L506.8 350.62 L525.68 350.48"/>
<path d="M412.4 349.38 L431.28 346.43 L450.16 346.43 L469.04 349.38 L487.92 352.06"/>
<path d="M412.4 351.65 L431.28 346.43 L450.16 349.93 L469.04 349.38 L487.92 355.16"/>
<path d="M412.4 353.78 L431.28 351.17 L450.16 349.93 L469.04 351.65 L487.92 358.18"/>
<path d="M412.4 362.17 L431.28 351.17 L450.16 352.06 L469.04 357.29"/>
<path d="M412.4 341.54 L431.28 357.29"/>
</g>
<g fill="none" stroke="#000" stroke-width="1.05">
<circle cx="412.4" cy="333.64" r="2.05"/>
<circle cx="431.28" cy="334.19" r="2.05"/>
<circle cx="450.16" cy="335.43" r="2.05"/>
<circle cx="469.04" cy="329.79" r="2.05"/>
<circle cx="487.92" cy="333.98" r="2.05"/>
<circle cx="506.8" cy="335.77" r="2.05"/>
<circle cx="525.68" cy="340.86" r="2.05"/>
<circle cx="544.56" cy="334.32" r="2.05"/>
<circle cx="563.44" cy="338.52" r="2.05"/>
<circle cx="582.32" cy="340.86" r="2.05"/>
<circle cx="601.2" cy="341.48" r="2.05"/>
<circle cx="620.08" cy="339.62" r="2.05"/>
<circle cx="638.96" cy="330.48" r="2.05"/>
<circle cx="657.84" cy="330.48" r="2.05"/>
<circle cx="676.72" cy="330.48" r="2.05"/>
<circle cx="412.4" cy="336.59" r="2.05"/>
<circle cx="431.28" cy="338.04" r="2.05"/>
<circle cx="450.16" cy="338.04" r="2.05"/>
<circle cx="469.04" cy="331.92" r="2.05"/>
<circle cx="487.92" cy="337.14" r="2.05"/>
<circle cx="506.8" cy="337.14" r="2.05"/>
<circle cx="525.68" cy="342.57" r="2.05"/>
<circle cx="544.56" cy="340.31" r="2.05"/>
<circle cx="563.44" cy="344.29" r="2.05"/>
<circle cx="582.32" cy="346.08" r="2.05"/>
<circle cx="601.2" cy="344.23" r="2.05"/>
<circle cx="620.08" cy="344.23" r="2.05"/>
<circle cx="638.96" cy="339.34" r="2.05"/>
<circle cx="657.84" cy="343.81" r="2.05"/>
<circle cx="412.4" cy="338.86" r="2.05"/>
<circle cx="431.28" cy="338.04" r="2.05"/>
<circle cx="450.16" cy="338.04" r="2.05"/>
<circle cx="469.04" cy="338.04" r="2.05"/>
<circle cx="487.92" cy="340.65" r="2.05"/>
<circle cx="506.8" cy="341.54" r="2.05"/>
<circle cx="525.68" cy="344.29" r="2.05"/>
<circle cx="544.56" cy="342.57" r="2.05"/>
<circle cx="563.44" cy="346.98" r="2.05"/>
<circle cx="582.32" cy="347.8" r="2.05"/>
<circle cx="601.2" cy="348.62" r="2.05"/>
<circle cx="620.08" cy="347.39" r="2.05"/>
<circle cx="638.96" cy="346.01" r="2.05"/>
<circle cx="412.4" cy="341.54" r="2.05"/>
<circle cx="431.28" cy="341.54" r="2.05"/>
<circle cx="450.16" cy="342.44" r="2.05"/>
<circle cx="469.04" cy="342.44" r="2.05"/>
<circle cx="487.92" cy="344.16" r="2.05"/>
<circle cx="506.8" cy="345.05" r="2.05"/>
<circle cx="525.68" cy="346.56" r="2.05"/>
<circle cx="544.56" cy="346.08" r="2.05"/>
<circle cx="563.44" cy="348.69" r="2.05"/>
<circle cx="412.4" cy="344.16" r="2.05"/>
<circle cx="431.28" cy="344.16" r="2.05"/>
<circle cx="450.16" cy="342.44" r="2.05"/>
<circle cx="469.04" cy="342.44" r="2.05"/>
<circle cx="487.92" cy="346.77" r="2.05"/>
<circle cx="506.8" cy="347.66" r="2.05"/>
<circle cx="525.68" cy="348.69" r="2.05"/>
<circle cx="544.56" cy="350.82" r="2.05"/>
<circle cx="563.44" cy="350.48" r="2.05"/>
<circle cx="412.4" cy="346.43" r="2.05"/>
<circle cx="431.28" cy="344.16" r="2.05"/>
<circle cx="450.16" cy="346.43" r="2.05"/>
<circle cx="469.04" cy="346.77" r="2.05"/>
<circle cx="487.92" cy="349.38" r="2.05"/>
<circle cx="506.8" cy="350.62" r="2.05"/>
<circle cx="525.68" cy="350.48" r="2.05"/>
<circle cx="412.4" cy="349.38" r="2.05"/>
<circle cx="431.28" cy="346.43" r="2.05"/>
<circle cx="450.16" cy="346.43" r="2.05"/>
<circle cx="469.04" cy="349.38" r="2.05"/>
<circle cx="487.92" cy="352.06" r="2.05"/>
<circle cx="412.4" cy="351.65" r="2.05"/>
<circle cx="431.28" cy="346.43" r="2.05"/>
<circle cx="450.16" cy="349.93" r="2.05"/>
<circle cx="469.04" cy="349.38" r="2.05"/>
<circle cx="487.92" cy="355.16" r="2.05"/>
<circle cx="412.4" cy="353.78" r="2.05"/>
<circle cx="431.28" cy="351.17" r="2.05"/>
<circle cx="450.16" cy="349.93" r="2.05"/>
<circle cx="469.04" cy="351.65" r="2.05"/>
<circle cx="487.92" cy="358.18" r="2.05"/>
<circle cx="412.4" cy="362.17" r="2.05"/>
<circle cx="431.28" cy="351.17" r="2.05"/>
<circle cx="450.16" cy="352.06" r="2.05"/>
<circle cx="469.04" cy="357.29" r="2.05"/>
<circle cx="412.4" cy="341.54" r="2.05"/>
<circle cx="431.28" cy="357.29" r="2.05"/>
</g>
<path d="M395.8 282.62 H402.4 V406.38 H395.8" fill="none" stroke="#000" stroke-width="1.9" stroke-linecap="butt" stroke-linejoin="miter"/>
<line x1="395.8" y1="303.25" x2="402.4" y2="303.25" stroke="#000" stroke-width="1.9"/>
<line x1="395.8" y1="323.88" x2="402.4" y2="323.88" stroke="#000" stroke-width="1.9"/>
<line x1="395.8" y1="344.5" x2="402.4" y2="344.5" stroke="#000" stroke-width="1.9"/>
<line x1="395.8" y1="365.12" x2="402.4" y2="365.12" stroke="#000" stroke-width="1.9"/>
<line x1="395.8" y1="385.75" x2="402.4" y2="385.75" stroke="#000" stroke-width="1.9"/>
<text x="390.9" y="285.52" font-size="9.4" text-anchor="end">90</text>
<text x="390.9" y="306.15" font-size="9.4" text-anchor="end">60</text>
<text x="390.9" y="326.77" font-size="9.4" text-anchor="end">30</text>
<text x="390.9" y="347.4" font-size="9.4" text-anchor="end">0</text>
<text x="390.9" y="368.02" font-size="9.4" text-anchor="end">-30</text>
<text x="390.9" y="388.65" font-size="9.4" text-anchor="end">-60</text>
<text x="390.9" y="409.27" font-size="9.4" text-anchor="end">-90</text>
<text transform="translate(366.15 344.8) rotate(-90)" font-size="9.7" text-anchor="middle">angle [°]</text>
<path d="M412.4 431.8 V425.9 H676.72 V431.8" fill="none" stroke="#000" stroke-width="1.9"/>
<line x1="450.16" y1="425.9" x2="450.16" y2="431.8" stroke="#000" stroke-width="1.9"/>
<line x1="487.92" y1="425.9" x2="487.92" y2="431.8" stroke="#000" stroke-width="1.9"/>
<line x1="525.68" y1="425.9" x2="525.68" y2="431.8" stroke="#000" stroke-width="1.9"/>
<line x1="563.44" y1="425.9" x2="563.44" y2="431.8" stroke="#000" stroke-width="1.9"/>
<line x1="601.2" y1="425.9" x2="601.2" y2="431.8" stroke="#000" stroke-width="1.9"/>
<line x1="638.96" y1="425.9" x2="638.96" y2="431.8" stroke="#000" stroke-width="1.9"/>
<text x="412.4" y="445.6" font-size="9.4" text-anchor="middle">0</text>
<text x="450.16" y="445.6" font-size="9.4" text-anchor="middle">20</text>
<text x="487.92" y="445.6" font-size="9.4" text-anchor="middle">40</text>
<text x="525.68" y="445.6" font-size="9.4" text-anchor="middle">60</text>
<text x="563.44" y="445.6" font-size="9.4" text-anchor="middle">80</text>
<text x="601.2" y="445.6" font-size="9.4" text-anchor="middle">100</text>
<text x="638.96" y="445.6" font-size="9.4" text-anchor="middle">120</text>
<text x="676.72" y="445.6" font-size="9.4" text-anchor="middle">140</text>
<text x="544.56" y="467.9" font-size="9.5" text-anchor="middle">time [min]</text>
<text x="412.3" y="415.8" font-size="14" text-anchor="start">aca</text>
<text x="449.4" y="415.6" font-size="9.3" text-anchor="start">n: 11</text>
</g><g id="pe">
<line x1="58.05" y1="594.35" x2="322.1" y2="594.35" stroke="#000" stroke-width="1.95" stroke-linecap="round" stroke-dasharray="1.92 5.2"/>
<g fill="none" stroke="#cbcbcb" stroke-width="1.2">
<path d="M58.55 592.32 L96.2 544.85 L133.85 541.76 L171.5 553.49 L209.15 570.09 L246.8 582.03 L284.45 582.03 L322.1 585.73"/>
<path d="M58.55 594.99 L96.2 552.6 L133.85 552.6 L171.5 568.31 L209.15 573.31 L246.8 579.01 L284.45 589.23 L322.1 588.2"/>
<path d="M58.55 553.49 L96.2 583.26 L133.85 582.37 L171.5 584.7 L209.15 588.68 L246.8 591.84 L284.45 593.89 L322.1 606.59"/>
<path d="M58.55 650.42 L96.2 652.2 L133.85 643.22 L171.5 618.11 L209.15 601.65 L246.8 608.03 L284.45 596.36"/>
<path d="M58.55 558.57 L96.2 556.16 L133.85 563.44 L171.5 571.87 L209.15 577.29 L246.8 584.7"/>
<path d="M58.55 560.69 L96.2 559.8 L133.85 559.8 L171.5 577.84 L209.15 580.59 L246.8 587.17"/>
<path d="M58.55 562.89 L96.2 562.13 L133.85 567.55 L171.5 580.17 L209.15 583.26 L246.8 589.57"/>
<path d="M58.55 567 L96.2 595.88 L133.85 596.78 L171.5 597.74 L209.15 601.65 L246.8 620.85"/>
<path d="M58.55 569.75 L96.2 570.09 L133.85 576.06 L171.5 582.37 L209.15 586.01 L246.8 596.36"/>
<path d="M58.55 572.42 L96.2 576.06 L133.85 573.31 L171.5 589.57 L209.15 591.42"/>
<path d="M58.55 575.17 L96.2 604.39 L133.85 603.16 L171.5 599.52 L209.15 610.36"/>
<path d="M58.55 578.39 L96.2 593.21 L133.85 590.12 L171.5 602.61 L209.15 612.14"/>
<path d="M58.55 587.79 L96.2 598.63 L133.85 600.41 L171.5 610.36 L209.15 613.45"/>
<path d="M58.55 597.74 L96.2 579.69 L133.85 578.73 L171.5 602.61 L209.15 604.05 L246.8 605.14"/>
<path d="M58.55 601.85 L96.2 605.83 L133.85 596.78 L171.5 584.7 L209.15 594.1"/>
<path d="M58.55 558.57 L96.2 559.8 L133.85 573.31"/>
<path d="M58.55 572.42 L96.2 576.06 L133.85 578.73"/>
<path d="M58.55 594.99 L96.2 595.88 L133.85 578.73"/>
</g>
<g fill="none" stroke="#000" stroke-width="1.05">
<circle cx="58.55" cy="592.32" r="2.05"/>
<circle cx="96.2" cy="544.85" r="2.05"/>
<circle cx="133.85" cy="541.76" r="2.05"/>
<circle cx="171.5" cy="553.49" r="2.05"/>
<circle cx="209.15" cy="570.09" r="2.05"/>
<circle cx="246.8" cy="582.03" r="2.05"/>
<circle cx="284.45" cy="582.03" r="2.05"/>
<circle cx="322.1" cy="585.73" r="2.05"/>
<circle cx="58.55" cy="594.99" r="2.05"/>
<circle cx="96.2" cy="552.6" r="2.05"/>
<circle cx="133.85" cy="552.6" r="2.05"/>
<circle cx="171.5" cy="568.31" r="2.05"/>
<circle cx="209.15" cy="573.31" r="2.05"/>
<circle cx="246.8" cy="579.01" r="2.05"/>
<circle cx="284.45" cy="589.23" r="2.05"/>
<circle cx="322.1" cy="588.2" r="2.05"/>
<circle cx="58.55" cy="553.49" r="2.05"/>
<circle cx="96.2" cy="583.26" r="2.05"/>
<circle cx="133.85" cy="582.37" r="2.05"/>
<circle cx="171.5" cy="584.7" r="2.05"/>
<circle cx="209.15" cy="588.68" r="2.05"/>
<circle cx="246.8" cy="591.84" r="2.05"/>
<circle cx="284.45" cy="593.89" r="2.05"/>
<circle cx="322.1" cy="606.59" r="2.05"/>
<circle cx="58.55" cy="650.42" r="2.05"/>
<circle cx="96.2" cy="652.2" r="2.05"/>
<circle cx="133.85" cy="643.22" r="2.05"/>
<circle cx="171.5" cy="618.11" r="2.05"/>
<circle cx="209.15" cy="601.65" r="2.05"/>
<circle cx="246.8" cy="608.03" r="2.05"/>
<circle cx="284.45" cy="596.36" r="2.05"/>
<circle cx="58.55" cy="558.57" r="2.05"/>
<circle cx="96.2" cy="556.16" r="2.05"/>
<circle cx="133.85" cy="563.44" r="2.05"/>
<circle cx="171.5" cy="571.87" r="2.05"/>
<circle cx="209.15" cy="577.29" r="2.05"/>
<circle cx="246.8" cy="584.7" r="2.05"/>
<circle cx="58.55" cy="560.69" r="2.05"/>
<circle cx="96.2" cy="559.8" r="2.05"/>
<circle cx="133.85" cy="559.8" r="2.05"/>
<circle cx="171.5" cy="577.84" r="2.05"/>
<circle cx="209.15" cy="580.59" r="2.05"/>
<circle cx="246.8" cy="587.17" r="2.05"/>
<circle cx="58.55" cy="562.89" r="2.05"/>
<circle cx="96.2" cy="562.13" r="2.05"/>
<circle cx="133.85" cy="567.55" r="2.05"/>
<circle cx="171.5" cy="580.17" r="2.05"/>
<circle cx="209.15" cy="583.26" r="2.05"/>
<circle cx="246.8" cy="589.57" r="2.05"/>
<circle cx="58.55" cy="567" r="2.05"/>
<circle cx="96.2" cy="595.88" r="2.05"/>
<circle cx="133.85" cy="596.78" r="2.05"/>
<circle cx="171.5" cy="597.74" r="2.05"/>
<circle cx="209.15" cy="601.65" r="2.05"/>
<circle cx="246.8" cy="620.85" r="2.05"/>
<circle cx="58.55" cy="569.75" r="2.05"/>
<circle cx="96.2" cy="570.09" r="2.05"/>
<circle cx="133.85" cy="576.06" r="2.05"/>
<circle cx="171.5" cy="582.37" r="2.05"/>
<circle cx="209.15" cy="586.01" r="2.05"/>
<circle cx="246.8" cy="596.36" r="2.05"/>
<circle cx="58.55" cy="572.42" r="2.05"/>
<circle cx="96.2" cy="576.06" r="2.05"/>
<circle cx="133.85" cy="573.31" r="2.05"/>
<circle cx="171.5" cy="589.57" r="2.05"/>
<circle cx="209.15" cy="591.42" r="2.05"/>
<circle cx="58.55" cy="575.17" r="2.05"/>
<circle cx="96.2" cy="604.39" r="2.05"/>
<circle cx="133.85" cy="603.16" r="2.05"/>
<circle cx="171.5" cy="599.52" r="2.05"/>
<circle cx="209.15" cy="610.36" r="2.05"/>
<circle cx="58.55" cy="578.39" r="2.05"/>
<circle cx="96.2" cy="593.21" r="2.05"/>
<circle cx="133.85" cy="590.12" r="2.05"/>
<circle cx="171.5" cy="602.61" r="2.05"/>
<circle cx="209.15" cy="612.14" r="2.05"/>
<circle cx="58.55" cy="587.79" r="2.05"/>
<circle cx="96.2" cy="598.63" r="2.05"/>
<circle cx="133.85" cy="600.41" r="2.05"/>
<circle cx="171.5" cy="610.36" r="2.05"/>
<circle cx="209.15" cy="613.45" r="2.05"/>
<circle cx="58.55" cy="597.74" r="2.05"/>
<circle cx="96.2" cy="579.69" r="2.05"/>
<circle cx="133.85" cy="578.73" r="2.05"/>
<circle cx="171.5" cy="602.61" r="2.05"/>
<circle cx="209.15" cy="604.05" r="2.05"/>
<circle cx="246.8" cy="605.14" r="2.05"/>
<circle cx="58.55" cy="601.85" r="2.05"/>
<circle cx="96.2" cy="605.83" r="2.05"/>
<circle cx="133.85" cy="596.78" r="2.05"/>
<circle cx="171.5" cy="584.7" r="2.05"/>
<circle cx="209.15" cy="594.1" r="2.05"/>
<circle cx="58.55" cy="558.57" r="2.05"/>
<circle cx="96.2" cy="559.8" r="2.05"/>
<circle cx="133.85" cy="573.31" r="2.05"/>
<circle cx="58.55" cy="572.42" r="2.05"/>
<circle cx="96.2" cy="576.06" r="2.05"/>
<circle cx="133.85" cy="578.73" r="2.05"/>
<circle cx="58.55" cy="594.99" r="2.05"/>
<circle cx="96.2" cy="595.88" r="2.05"/>
<circle cx="133.85" cy="578.73" r="2.05"/>
</g>
<path d="M41.3 532.36 H47.9 V655.84 H41.3" fill="none" stroke="#000" stroke-width="1.9" stroke-linecap="butt" stroke-linejoin="miter"/>
<line x1="41.3" y1="552.94" x2="47.9" y2="552.94" stroke="#000" stroke-width="1.9"/>
<line x1="41.3" y1="573.52" x2="47.9" y2="573.52" stroke="#000" stroke-width="1.9"/>
<line x1="41.3" y1="594.1" x2="47.9" y2="594.1" stroke="#000" stroke-width="1.9"/>
<line x1="41.3" y1="614.68" x2="47.9" y2="614.68" stroke="#000" stroke-width="1.9"/>
<line x1="41.3" y1="635.26" x2="47.9" y2="635.26" stroke="#000" stroke-width="1.9"/>
<text x="36.4" y="535.26" font-size="9.4" text-anchor="end">90</text>
<text x="36.4" y="555.84" font-size="9.4" text-anchor="end">60</text>
<text x="36.4" y="576.42" font-size="9.4" text-anchor="end">30</text>
<text x="36.4" y="597" font-size="9.4" text-anchor="end">0</text>
<text x="36.4" y="617.58" font-size="9.4" text-anchor="end">-30</text>
<text x="36.4" y="638.16" font-size="9.4" text-anchor="end">-60</text>
<text x="36.4" y="658.74" font-size="9.4" text-anchor="end">-90</text>
<text transform="translate(11.65 594.4) rotate(-90)" font-size="9.7" text-anchor="middle">angle [°]</text>
<path d="M58.55 681.9 V676 H322.1 V681.9" fill="none" stroke="#000" stroke-width="1.9"/>
<line x1="96.2" y1="676" x2="96.2" y2="681.9" stroke="#000" stroke-width="1.9"/>
<line x1="133.85" y1="676" x2="133.85" y2="681.9" stroke="#000" stroke-width="1.9"/>
<line x1="171.5" y1="676" x2="171.5" y2="681.9" stroke="#000" stroke-width="1.9"/>
<line x1="209.15" y1="676" x2="209.15" y2="681.9" stroke="#000" stroke-width="1.9"/>
<line x1="246.8" y1="676" x2="246.8" y2="681.9" stroke="#000" stroke-width="1.9"/>
<line x1="284.45" y1="676" x2="284.45" y2="681.9" stroke="#000" stroke-width="1.9"/>
<text x="58.55" y="695.5" font-size="9.4" text-anchor="middle">0</text>
<text x="96.2" y="695.5" font-size="9.4" text-anchor="middle">5</text>
<text x="133.85" y="695.5" font-size="9.4" text-anchor="middle">10</text>
<text x="171.5" y="695.5" font-size="9.4" text-anchor="middle">15</text>
<text x="209.15" y="695.5" font-size="9.4" text-anchor="middle">20</text>
<text x="246.8" y="695.5" font-size="9.4" text-anchor="middle">25</text>
<text x="284.45" y="695.5" font-size="9.4" text-anchor="middle">30</text>
<text x="322.1" y="695.5" font-size="9.4" text-anchor="middle">35</text>
<text x="190.33" y="717.9" font-size="9.5" text-anchor="middle">time [min]</text>
<text x="58.3" y="665" font-size="14" text-anchor="start">pac</text>
<text x="100.7" y="666" font-size="9.3" text-anchor="start">n: 18</text>
</g><g id="pf">
<line x1="411.7" y1="594.35" x2="676.2" y2="594.35" stroke="#000" stroke-width="1.95" stroke-linecap="round" stroke-dasharray="1.92 5.2"/>
<g fill="none" stroke="#cbcbcb" stroke-width="1.2">
<path d="M412.2 541.96 L445.2 532.91 L478.2 533.8 L511.2 534.69"/>
<path d="M412.2 630.73 L445.2 628.61 L478.2 566.32 L511.2 565.01 L544.2 563.57 L577.2 570.98 L610.2 563.3"/>
<path d="M412.2 570.84 L445.2 629.5"/>
<path d="M412.2 552.73 L445.2 554.59 L478.2 561.79 L511.2 566.66 L544.2 567.21 L577.2 570.98 L610.2 592.04 L643.2 604.53"/>
<path d="M412.2 558.15 L445.2 560.01 L478.2 563.57 L511.2 569.88 L544.2 571.74 L577.2 571.67"/>
<path d="M412.2 560.9 L445.2 564.46 L478.2 568.1 L511.2 574.41 L544.2 577.16 L577.2 570.98"/>
<path d="M412.2 563.02 L445.2 567.21 L478.2 576.61 L511.2 583.47 L544.2 585.25 L577.2 578.25"/>
<path d="M412.2 565.43 L445.2 569.54 L478.2 579.83 L511.2 591.01 L544.2 591.9"/>
<path d="M412.2 568.1 L445.2 571.74 L478.2 586.14 L511.2 606.93 L544.2 602.95 L577.2 609.05"/>
<path d="M412.2 573.18 L445.2 573.86 L478.2 590.12 L511.2 608.16 L544.2 609.26 L577.2 609.74"/>
<path d="M412.2 579.83 L445.2 596.98 L478.2 619 L511.2 617.22 L544.2 614.47 L577.2 609.74"/>
<path d="M412.2 582.16 L445.2 581.61 L478.2 568.1 L511.2 565.01 L544.2 561.79"/>
<path d="M412.2 584.02 L445.2 585.25 L478.2 602.74"/>
<path d="M412.2 585.25 L445.2 587.99 L478.2 605.62"/>
<path d="M412.2 558.15 L445.2 564.46 L478.2 563.57"/>
<path d="M412.2 563.02 L445.2 569.54"/>
<path d="M412.2 565.43 L445.2 571.74"/>
<path d="M412.2 568.1 L445.2 573.86"/>
<path d="M412.2 582.16 L445.2 596.98"/>
</g>
<g fill="none" stroke="#000" stroke-width="1.05">
<circle cx="412.2" cy="541.96" r="2.05"/>
<circle cx="445.2" cy="532.91" r="2.05"/>
<circle cx="478.2" cy="533.8" r="2.05"/>
<circle cx="511.2" cy="534.69" r="2.05"/>
<circle cx="412.2" cy="630.73" r="2.05"/>
<circle cx="445.2" cy="628.61" r="2.05"/>
<circle cx="478.2" cy="566.32" r="2.05"/>
<circle cx="511.2" cy="565.01" r="2.05"/>
<circle cx="544.2" cy="563.57" r="2.05"/>
<circle cx="577.2" cy="570.98" r="2.05"/>
<circle cx="610.2" cy="563.3" r="2.05"/>
<circle cx="412.2" cy="570.84" r="2.05"/>
<circle cx="445.2" cy="629.5" r="2.05"/>
<circle cx="412.2" cy="552.73" r="2.05"/>
<circle cx="445.2" cy="554.59" r="2.05"/>
<circle cx="478.2" cy="561.79" r="2.05"/>
<circle cx="511.2" cy="566.66" r="2.05"/>
<circle cx="544.2" cy="567.21" r="2.05"/>
<circle cx="577.2" cy="570.98" r="2.05"/>
<circle cx="610.2" cy="592.04" r="2.05"/>
<circle cx="643.2" cy="604.53" r="2.05"/>
<circle cx="412.2" cy="558.15" r="2.05"/>
<circle cx="445.2" cy="560.01" r="2.05"/>
<circle cx="478.2" cy="563.57" r="2.05"/>
<circle cx="511.2" cy="569.88" r="2.05"/>
<circle cx="544.2" cy="571.74" r="2.05"/>
<circle cx="577.2" cy="571.67" r="2.05"/>
<circle cx="412.2" cy="560.9" r="2.05"/>
<circle cx="445.2" cy="564.46" r="2.05"/>
<circle cx="478.2" cy="568.1" r="2.05"/>
<circle cx="511.2" cy="574.41" r="2.05"/>
<circle cx="544.2" cy="577.16" r="2.05"/>
<circle cx="577.2" cy="570.98" r="2.05"/>
<circle cx="412.2" cy="563.02" r="2.05"/>
<circle cx="445.2" cy="567.21" r="2.05"/>
<circle cx="478.2" cy="576.61" r="2.05"/>
<circle cx="511.2" cy="583.47" r="2.05"/>
<circle cx="544.2" cy="585.25" r="2.05"/>
<circle cx="577.2" cy="578.25" r="2.05"/>
<circle cx="412.2" cy="565.43" r="2.05"/>
<circle cx="445.2" cy="569.54" r="2.05"/>
<circle cx="478.2" cy="579.83" r="2.05"/>
<circle cx="511.2" cy="591.01" r="2.05"/>
<circle cx="544.2" cy="591.9" r="2.05"/>
<circle cx="412.2" cy="568.1" r="2.05"/>
<circle cx="445.2" cy="571.74" r="2.05"/>
<circle cx="478.2" cy="586.14" r="2.05"/>
<circle cx="511.2" cy="606.93" r="2.05"/>
<circle cx="544.2" cy="602.95" r="2.05"/>
<circle cx="577.2" cy="609.05" r="2.05"/>
<circle cx="412.2" cy="573.18" r="2.05"/>
<circle cx="445.2" cy="573.86" r="2.05"/>
<circle cx="478.2" cy="590.12" r="2.05"/>
<circle cx="511.2" cy="608.16" r="2.05"/>
<circle cx="544.2" cy="609.26" r="2.05"/>
<circle cx="577.2" cy="609.74" r="2.05"/>
<circle cx="412.2" cy="579.83" r="2.05"/>
<circle cx="445.2" cy="596.98" r="2.05"/>
<circle cx="478.2" cy="619" r="2.05"/>
<circle cx="511.2" cy="617.22" r="2.05"/>
<circle cx="544.2" cy="614.47" r="2.05"/>
<circle cx="577.2" cy="609.74" r="2.05"/>
<circle cx="412.2" cy="582.16" r="2.05"/>
<circle cx="445.2" cy="581.61" r="2.05"/>
<circle cx="478.2" cy="568.1" r="2.05"/>
<circle cx="511.2" cy="565.01" r="2.05"/>
<circle cx="544.2" cy="561.79" r="2.05"/>
<circle cx="412.2" cy="584.02" r="2.05"/>
<circle cx="445.2" cy="585.25" r="2.05"/>
<circle cx="478.2" cy="602.74" r="2.05"/>
<circle cx="412.2" cy="585.25" r="2.05"/>
<circle cx="445.2" cy="587.99" r="2.05"/>
<circle cx="478.2" cy="605.62" r="2.05"/>
<circle cx="412.2" cy="558.15" r="2.05"/>
<circle cx="445.2" cy="564.46" r="2.05"/>
<circle cx="478.2" cy="563.57" r="2.05"/>
<circle cx="412.2" cy="563.02" r="2.05"/>
<circle cx="445.2" cy="569.54" r="2.05"/>
<circle cx="412.2" cy="565.43" r="2.05"/>
<circle cx="445.2" cy="571.74" r="2.05"/>
<circle cx="412.2" cy="568.1" r="2.05"/>
<circle cx="445.2" cy="573.86" r="2.05"/>
<circle cx="412.2" cy="582.16" r="2.05"/>
<circle cx="445.2" cy="596.98" r="2.05"/>
<circle cx="412.2" cy="568.1" r="2.05"/>
<circle cx="412.2" cy="570.84" r="2.05"/>
</g>
<path d="M395.8 532.36 H402.4 V655.84 H395.8" fill="none" stroke="#000" stroke-width="1.9" stroke-linecap="butt" stroke-linejoin="miter"/>
<line x1="395.8" y1="552.94" x2="402.4" y2="552.94" stroke="#000" stroke-width="1.9"/>
<line x1="395.8" y1="573.52" x2="402.4" y2="573.52" stroke="#000" stroke-width="1.9"/>
<line x1="395.8" y1="594.1" x2="402.4" y2="594.1" stroke="#000" stroke-width="1.9"/>
<line x1="395.8" y1="614.68" x2="402.4" y2="614.68" stroke="#000" stroke-width="1.9"/>
<line x1="395.8" y1="635.26" x2="402.4" y2="635.26" stroke="#000" stroke-width="1.9"/>
<text x="390.9" y="535.26" font-size="9.4" text-anchor="end">90</text>
<text x="390.9" y="555.84" font-size="9.4" text-anchor="end">60</text>
<text x="390.9" y="576.42" font-size="9.4" text-anchor="end">30</text>
<text x="390.9" y="597" font-size="9.4" text-anchor="end">0</text>
<text x="390.9" y="617.58" font-size="9.4" text-anchor="end">-30</text>
<text x="390.9" y="638.16" font-size="9.4" text-anchor="end">-60</text>
<text x="390.9" y="658.74" font-size="9.4" text-anchor="end">-90</text>
<text transform="translate(366.15 594.4) rotate(-90)" font-size="9.7" text-anchor="middle">angle [°]</text>
<path d="M412.2 681.9 V676 H676.2 V681.9" fill="none" stroke="#000" stroke-width="1.9"/>
<line x1="478.2" y1="676" x2="478.2" y2="681.9" stroke="#000" stroke-width="1.9"/>
<line x1="544.2" y1="676" x2="544.2" y2="681.9" stroke="#000" stroke-width="1.9"/>
<line x1="610.2" y1="676" x2="610.2" y2="681.9" stroke="#000" stroke-width="1.9"/>
<text x="412.2" y="695.5" font-size="9.4" text-anchor="middle">0</text>
<text x="478.2" y="695.5" font-size="9.4" text-anchor="middle">5</text>
<text x="544.2" y="695.5" font-size="9.4" text-anchor="middle">10</text>
<text x="610.2" y="695.5" font-size="9.4" text-anchor="middle">15</text>
<text x="676.2" y="695.5" font-size="9.4" text-anchor="middle">20</text>
<text x="544.2" y="717.9" font-size="9.5" text-anchor="middle">time [min]</text>
<text x="414.1" y="665.5" font-size="14" text-anchor="start">nan</text>
<text x="454.7" y="666.2" font-size="9.3" text-anchor="start">n: 21</text>
</g>
</g>
</svg>
</body></html>
